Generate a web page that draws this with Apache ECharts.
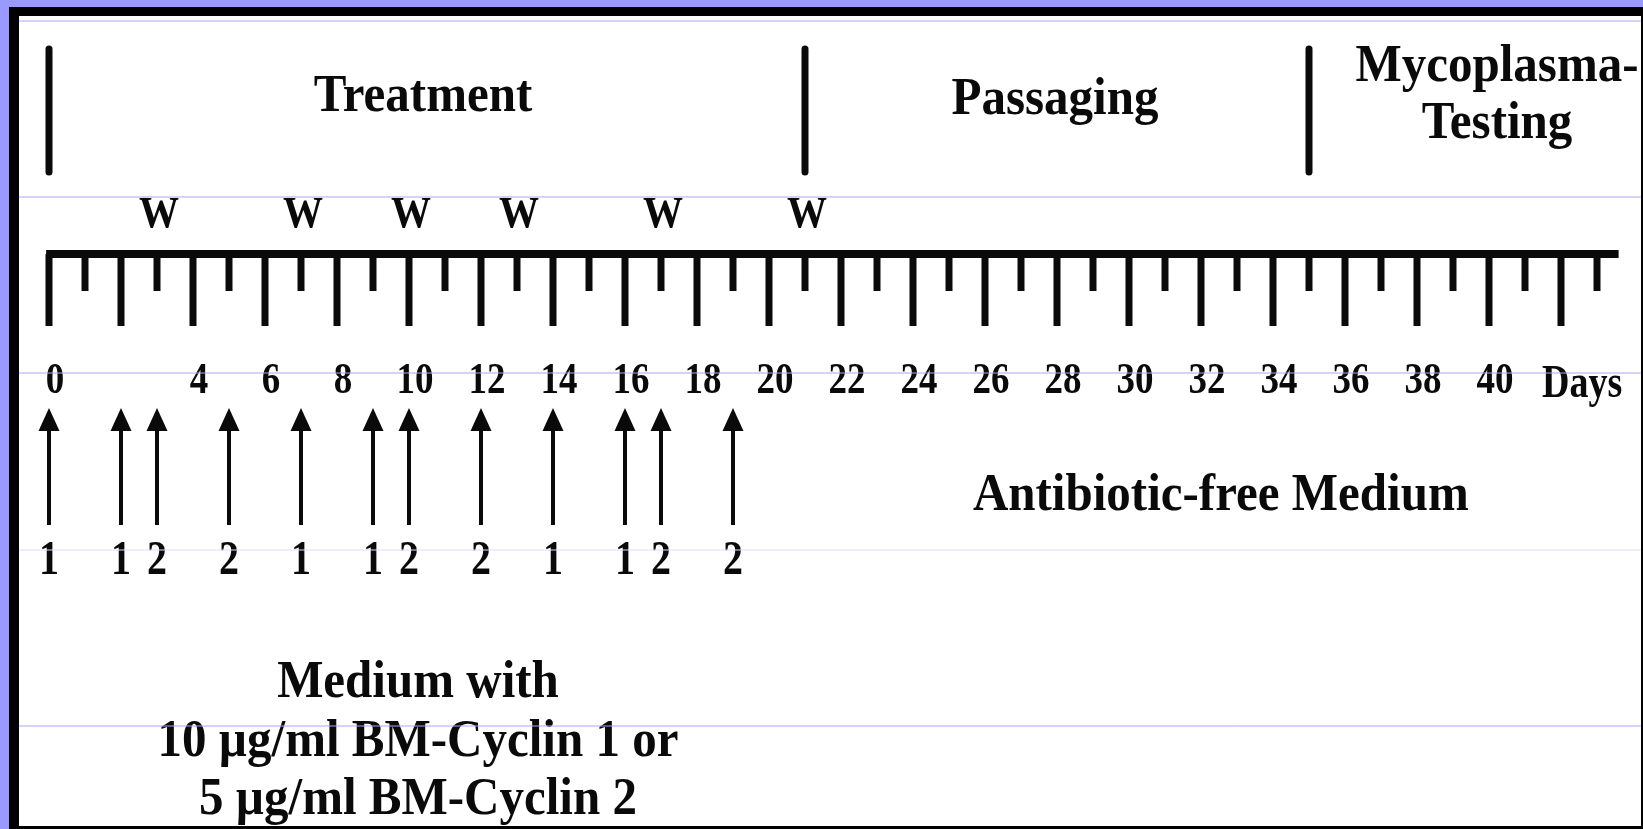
<!DOCTYPE html>
<html>
<head>
<meta charset="utf-8">
<title>Treatment schedule</title>
<script src="https://cdn.jsdelivr.net/npm/echarts@6/dist/echarts.min.js"></script>
<style>
  html, body { margin: 0; padding: 0; background: #9999ff; }
  #main { width: 1643px; height: 829px; }
</style>
</head>
<body>
<div id="main"></div>
<script>
// time line, in days
const tickDays = [0, 1, 2, 3, 4, 5, 6, 7, 8, 9, 10, 11, 12, 13, 14, 15, 16, 17, 18, 19, 20, 21,
  22, 23, 24, 25, 26, 27, 28, 29, 30, 31, 32, 33, 34, 35, 36, 37, 38, 39, 40, 41, 42, 43]
const axisExtent = [-0.08, 43.6]
const labelDays = [0, 4, 6, 8, 10, 12, 14, 16, 18, 20, 22, 24, 26, 28, 30, 32, 34, 36, 38, 40, 42]
const labelTexts = ['0', '4', '6', '8', '10', '12', '14', '16', '18', '20', '22', '24', '26',
  '28', '30', '32', '34', '36', '38', '40', 'Days']

// phases of the experiment
const phaseStarts = [0, 21, 35]
const phaseNames = ['Treatment', 'Passaging', 'Mycoplasma-\nTesting']

// W = medium change
const washDays = [3, 7, 10, 13, 17, 21]

// antibiotic additions (1 = BM-Cyclin 1, 2 = BM-Cyclin 2)
const doseDays = [0, 2, 3, 5, 7, 9, 10, 12, 14, 16, 17, 19]
const doseDrug = [1, 1, 2, 2, 1, 1, 2, 2, 1, 1, 2, 2]

// medium used in each period
const mediumSpans = [[0, 21], [21, 43.6]]
const mediumNotes = ['Medium with\n10 µg/ml BM-Cyclin 1 or\n5 µg/ml BM-Cyclin 2', 'Antibiotic-free Medium']

// layout (pixels)
const INK = '#0a0a0a'
const SERIF = '"Liberation Serif", "Times New Roman", serif'
const X_MAX = 44
const Y = {
  phaseTop: 49, phaseBottom: 172, phaseText: [97, 100, 96],
  wash: 216, axis: 254, longTick: 72, shortTick: 37, tickLabel: 382,
  arrowTip: 408, arrowBase: 431, arrowEnd: 525, drugLabel: 562,
  note: [742, 496]
}
const phaseNudge = [-4, -2, 26]
const noteNudge = [-9, 9]
const scanLines = [21, 197, 373, 550, 726]

function xOf(api, day) {
  return api.coord([day, 0])[0]
}

function label(x, y, text, size, stretch, align, lineHeight) {
  const a = align || 'center'
  return {
    type: 'text', x: x, y: y, scaleY: stretch,
    style: {
      text: text, x: 0, y: 0, fill: INK,
      fontFamily: SERIF, fontWeight: 'bold', fontSize: size,
      lineHeight: lineHeight || Math.round(size * 1.1),
      align: a, verticalAlign: 'middle', textAlign: a, textVerticalAlign: 'middle'
    }
  }
}

const myChart = echarts.init(document.getElementById('main'))

const option = {
  animation: false,
  backgroundColor: '#9999ff',
  grid: { left: 49, right: 10, top: 0, bottom: 0, outerBoundsMode: 'none' },
  xAxis: { type: 'value', min: 0, max: X_MAX, show: false },
  yAxis: { type: 'value', min: 0, max: 829, inverse: true, show: false },
  graphic: [
    { type: 'rect', z: 0, shape: { x: 9, y: 7, width: 1634, height: 822 }, style: { fill: '#000' } },
    { type: 'rect', z: 0, shape: { x: 19, y: 16, width: 1622, height: 810 }, style: { fill: '#fff' } }
  ].concat(scanLines.map(function (y, i) {
    return {
      type: 'line', z: 100,
      shape: { x1: 19, y1: y, x2: 1641, y2: y },
      style: { stroke: i === 3 ? '#dcdcfa' : '#a8a8f2', lineWidth: 1 }
    }
  })),
  series: [
    {
      name: 'axis',
      type: 'custom',
      clip: false,
      data: [axisExtent],
      renderItem: function (params, api) {
        return {
          type: 'line',
          shape: { x1: xOf(api, api.value(0)), y1: Y.axis, x2: xOf(api, api.value(1)), y2: Y.axis },
          style: { stroke: INK, lineWidth: 8 }
        }
      }
    },
    {
      name: 'ticks',
      type: 'custom',
      clip: false,
      data: tickDays.map(function (d) { return [d, 0] }),
      renderItem: function (params, api) {
        const day = api.value(0)
        const x = xOf(api, day)
        const len = day % 2 === 0 ? Y.longTick : Y.shortTick
        return {
          type: 'line',
          shape: { x1: x, y1: Y.axis, x2: x, y2: Y.axis + len },
          style: { stroke: INK, lineWidth: 7 }
        }
      }
    },
    {
      name: 'tickLabels',
      type: 'custom',
      clip: false,
      data: labelDays.map(function (d) { return [d, 0] }),
      renderItem: function (params, api) {
        const text = labelTexts[params.dataIndex]
        const x = xOf(api, api.value(0))
        if (isNaN(Number(text))) {
          return label(x - 19, Y.tickLabel + 3, text, 38, 1.2, 'left')
        }
        return label(x + 6, Y.tickLabel, text, 37, 1.2)
      }
    },
    {
      name: 'phases',
      type: 'custom',
      clip: false,
      data: phaseStarts.map(function (d) { return [d, 0] }),
      renderItem: function (params, api) {
        const i = params.dataIndex
        const start = api.value(0)
        const next = i + 1 < phaseStarts.length ? phaseStarts[i + 1] : X_MAX
        const x = xOf(api, start)
        const mid = xOf(api, (start + next) / 2) + phaseNudge[i]
        return {
          type: 'group',
          children: [
            {
              type: 'line',
              shape: { x1: x, y1: Y.phaseTop, x2: x, y2: Y.phaseBottom },
              style: { stroke: INK, lineWidth: 7, lineCap: 'round' }
            },
            label(mid, Y.phaseText[i], phaseNames[i], 49, 1.07, 'center', 54)
          ]
        }
      }
    },
    {
      name: 'W',
      type: 'custom',
      clip: false,
      data: washDays.map(function (d) { return [d, 0] }),
      renderItem: function (params, api) {
        return label(xOf(api, api.value(0)) + 2, Y.wash, 'W', 40, 1.1)
      }
    },
    {
      name: 'doses',
      type: 'custom',
      clip: false,
      data: doseDays.map(function (d) { return [d, 0] }),
      renderItem: function (params, api) {
        const x = xOf(api, api.value(0))
        return {
          type: 'group',
          children: [
            {
              type: 'line',
              shape: { x1: x, y1: Y.arrowEnd, x2: x, y2: Y.arrowBase - 2 },
              style: { stroke: INK, lineWidth: 4 }
            },
            {
              type: 'polygon',
              shape: { points: [[x, Y.arrowTip], [x - 10.5, Y.arrowBase], [x + 10.5, Y.arrowBase]] },
              style: { fill: INK }
            },
            label(x, Y.drugLabel, String(doseDrug[params.dataIndex]), 40, 1.2)
          ]
        }
      }
    },
    {
      name: 'medium',
      type: 'custom',
      clip: false,
      data: mediumSpans,
      renderItem: function (params, api) {
        const i = params.dataIndex
        const mid = xOf(api, (api.value(0) + api.value(1)) / 2) + noteNudge[i]
        return label(mid, Y.note[i], mediumNotes[i], 49, 1.07, 'center', 55)
      }
    }
  ]
}

myChart.setOption(option)
</script>
</body>
</html>
